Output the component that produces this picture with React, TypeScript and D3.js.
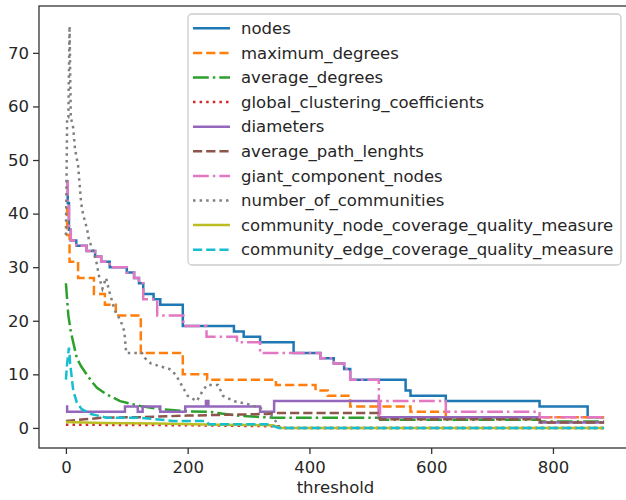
import * as d3 from "d3";
import { useEffect, useRef } from "react";

// [threshold, value] pairs
const nodes: [number, number][] = [
  [0, 46], [3, 42], [5, 37], [8, 35], [17, 34], [34, 33], [48, 32], [58, 31],
  [72, 30], [100, 29], [112, 28], [120, 27], [127, 25], [144, 24], [155, 23],
  [192, 19], [276, 18], [292, 17], [319, 16], [374, 14], [418, 13], [440, 12],
  [457, 11], [467, 9], [558, 7], [566, 6], [624, 5], [778, 4], [857, 2], [884, 2],
];
const maximumDegrees: [number, number][] = [
  [0, 41], [2, 36], [6, 31], [20, 28], [46, 25], [64, 23], [82, 21], [123, 14],
  [192, 10], [232, 9], [345, 8], [410, 7], [430, 6], [467, 4], [566, 3],
  [624, 2], [884, 2],
];
const averageDegrees: [number, number][] = [
  [0, 27], [2, 24], [4, 21], [8, 18], [12, 16], [18, 13], [25, 11.5], [34, 10],
  [42, 8.7], [51, 7.5], [66, 6.3], [89, 5], [122, 4.1], [155, 3.5], [200, 3.1],
  [236, 3], [280, 2.3], [340, 1.9], [514, 1.9], [516, 1.5], [778, 1.5],
  [780, 1.2], [884, 1.2],
];
const globalClustering: [number, number][] = [
  [0, 0.6], [200, 0.5], [350, 0.3], [360, 0], [884, 0],
];
const diameters: [number, number][] = [
  [0, 4], [2, 3], [97, 4], [118, 3], [126, 4], [155, 3], [196, 4], [230, 5],
  [234, 4], [319, 3], [342, 5], [514, 2], [778, 1], [884, 1],
];
const averagePathLengths: [number, number][] = [
  [0, 1.3], [30, 1.6], [60, 1.9], [120, 2], [200, 2.3], [330, 2.6], [350, 2.8],
  [514, 2.8], [516, 1.6], [778, 1.6], [780, 1], [884, 1],
];
const giantComponentNodes: [number, number][] = [
  [0, 46], [3, 42], [5, 37], [8, 35], [17, 34], [34, 33], [48, 32], [58, 31],
  [72, 30], [100, 29], [112, 28], [120, 27], [127, 24], [150, 21], [193, 19],
  [231, 17], [281, 16], [319, 14], [418, 13], [440, 12], [457, 11], [467, 9],
  [514, 2], [516, 5], [624, 3], [778, 2], [884, 2],
];
const numberOfCommunities: [number, number][] = [
  [0, 36], [1, 46], [2, 58], [4, 58], [6, 75], [8, 58], [12, 56], [15, 52],
  [20, 49], [25, 42], [28, 40], [35, 37], [38, 35], [45, 33], [50, 31],
  [55, 28], [60, 26], [63, 27], [66, 28], [70, 26], [75, 24], [80, 22],
  [90, 20], [96, 18], [99, 14], [125, 14], [130, 13], [140, 12], [170, 11],
  [180, 10], [190, 8], [200, 6], [215, 5], [225, 7], [232, 8], [250, 8],
  [258, 6], [276, 5], [300, 4.4], [320, 3.7], [340, 2], [352, 0], [884, 0],
];
const nodeCoverage: [number, number][] = [
  [0, 1.1], [60, 0.9], [150, 0.8], [250, 0.6], [340, 0.5], [352, 0], [884, 0],
];
const edgeCoverage: [number, number][] = [
  [0, 9], [2, 12], [5, 15], [7, 12], [9, 10], [12, 7], [18, 4.7], [26, 3.5],
  [41, 2.6], [67, 1.9], [122, 1.9], [176, 1.3], [230, 1.3], [235, 0.7],
  [330, 0.7], [350, 0], [884, 0],
];

const seriesNames = [
  "nodes",
  "maximum_degrees",
  "average_degrees",
  "global_clustering_coefficients",
  "diameters",
  "average_path_lenghts",
  "giant_component_nodes",
  "number_of_communities",
  "community_node_coverage_quality_measure",
  "community_edge_coverage_quality_measure",
];
const seriesData = [
  nodes, maximumDegrees, averageDegrees, globalClustering, diameters,
  averagePathLengths, giantComponentNodes, numberOfCommunities, nodeCoverage,
  edgeCoverage,
];
const colors = [
  "#1f77b4", "#ff7f0e", "#2ca02c", "#d62728", "#9467bd",
  "#8c564b", "#e377c2", "#7f7f7f", "#bcbd22", "#17becf",
];
const dashStyles = [
  "solid", "dashed", "dashdot", "dotted", "solid",
  "dashed", "dashdot", "dotted", "solid", "dashed",
];
const stepped = [true, true, false, false, true, false, true, false, false, false];
const xTicks = [0, 200, 400, 600, 800];
const yTicks = [0, 10, 20, 30, 40, 50, 60, 70];

const dashArray: Record<string, string | null> = {
  solid: null,
  dashed: "9.2,4",
  dashdot: "15.8,4,2.5,4",
  dotted: "2.5,4.1",
};

export default function App() {
  const ref = useRef(null);
  const totalWidth = 626;
  const totalHeight = 500;
  // the right spine sits just past the picture's edge
  const margin = { top: 6, right: -5, bottom: 52, left: 39 };
  const width = totalWidth - margin.left - margin.right;
  const height = totalHeight - margin.top - margin.bottom;

  useEffect(() => {
    draw();
  });

  function draw() {
    const svg = d3.select(ref.current);
    svg.selectAll("*").remove();
    const font = "DejaVu Sans, sans-serif";

    const plot = svg
      .append("g")
      .attr("transform", "translate(" + margin.left + "," + margin.top + ")");

    // matplotlib style 5% padding around the data
    const xMax = d3.max(seriesData, (s) => d3.max(s, (d) => d[0])) as number;
    const yMax = d3.max(seriesData, (s) => d3.max(s, (d) => d[1])) as number;
    const x = d3
      .scaleLinear()
      .domain([-xMax * 0.05, xMax * 1.05])
      .range([0, width]);
    const y = d3
      .scaleLinear()
      .domain([-yMax * 0.05, yMax * 1.05])
      .range([height, 0]);

    plot
      .append("clipPath")
      .attr("id", "plot-clip")
      .append("rect")
      .attr("width", width)
      .attr("height", height);

    const lines = plot.append("g").attr("clip-path", "url(#plot-clip)");
    seriesData.forEach((data, i) => {
      const line = d3
        .line<[number, number]>()
        .x((d) => x(d[0]))
        .y((d) => y(d[1]))
        .curve(stepped[i] ? d3.curveStepAfter : d3.curveLinear);
      lines
        .append("path")
        .datum(data)
        .attr("fill", "none")
        .attr("stroke", colors[i])
        .attr("stroke-width", 2.5)
        .attr("stroke-dasharray", dashArray[dashStyles[i]])
        .attr("d", line);
    });

    // frame
    plot
      .append("rect")
      .attr("width", width)
      .attr("height", height)
      .attr("fill", "none")
      .attr("stroke", "#333")
      .attr("stroke-width", 1.3);

    // x axis
    const xAxis = plot
      .append("g")
      .attr("transform", "translate(0," + height + ")")
      .call(d3.axisBottom(x).tickValues(xTicks).tickSize(6).tickPadding(7));
    xAxis.select(".domain").remove();
    xAxis.selectAll("line").attr("stroke", "#333").attr("stroke-width", 1.3);
    xAxis
      .selectAll("text")
      .attr("font-family", font)
      .attr("font-size", 16.5)
      .attr("fill", "#262626");

    // y axis
    const yAxis = plot
      .append("g")
      .call(d3.axisLeft(y).tickValues(yTicks).tickSize(6).tickPadding(4));
    yAxis.select(".domain").remove();
    yAxis.selectAll("line").attr("stroke", "#333").attr("stroke-width", 1.3);
    yAxis
      .selectAll("text")
      .attr("font-family", font)
      .attr("font-size", 16.5)
      .attr("fill", "#262626");

    // axis label
    plot
      .append("text")
      .attr("x", (width + margin.right) / 2 + 3)
      .attr("y", height + 45)
      .style("text-anchor", "middle")
      .attr("font-family", font)
      .attr("font-size", 16.5)
      .attr("fill", "#262626")
      .text("threshold");

    // legend
    const legend = svg.append("g").attr("transform", "translate(188,14)");
    legend
      .append("rect")
      .attr("width", 433)
      .attr("height", 251)
      .attr("rx", 4)
      .attr("fill", "white")
      .attr("fill-opacity", 0.8)
      .attr("stroke", "#ccc")
      .attr("stroke-width", 1.3);
    seriesNames.forEach((name, i) => {
      const cy = 14.3 + i * 24.6;
      legend
        .append("line")
        .attr("x1", 5)
        .attr("x2", 42)
        .attr("y1", cy)
        .attr("y2", cy)
        .attr("stroke", colors[i])
        .attr("stroke-width", 2.5)
        .attr("stroke-dasharray", dashArray[dashStyles[i]]);
      legend
        .append("text")
        .attr("x", 53)
        .attr("y", cy)
        .attr("dy", "0.35em")
        .attr("font-family", font)
        .attr("font-size", 16.5)
        .attr("fill", "#262626")
        .text(name);
    });
  }

  return (
    <svg
      width={totalWidth}
      height={totalHeight}
      ref={ref}
      style={{ position: "absolute", left: 0, top: 0, background: "white" }}
    ></svg>
  );
}
